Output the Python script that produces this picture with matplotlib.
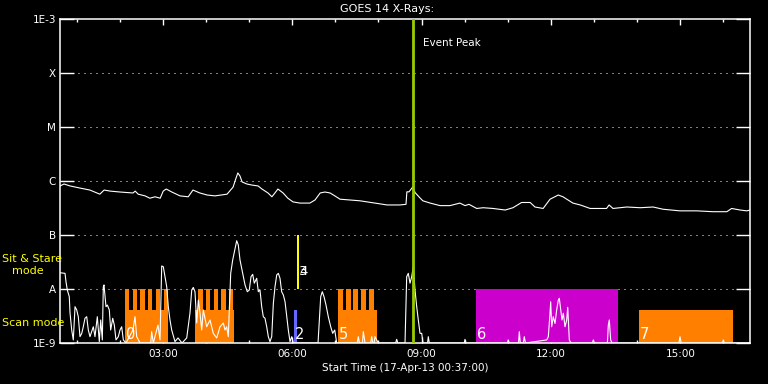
import matplotlib
matplotlib.use("Agg")
import matplotlib.pyplot as plt

# GOES 14 long channel (hours since 00:00 on 17-Apr-13, W/m^2)
goes_t = [0.62, 0.71, 0.85, 1.08, 1.31, 1.54, 1.64, 1.78, 2.01, 2.31, 2.36, 2.43, 2.59,
          2.70, 2.82, 2.94, 3.01, 3.08, 3.21, 3.40, 3.59, 3.70, 3.86, 4.03, 4.21, 4.49,
          4.63, 4.70, 4.74, 4.79, 4.84, 4.95, 5.07, 5.21, 5.30, 5.44, 5.53, 5.60, 5.67,
          5.79, 5.90, 6.02, 6.18, 6.41, 6.53, 6.65, 6.76, 6.88, 6.99, 7.11, 7.34, 7.57,
          7.74, 7.92, 8.20, 8.39, 8.50, 8.64, 8.66, 8.71, 8.80, 8.85, 8.95, 9.03, 9.20,
          9.43, 9.66, 9.89, 10.01, 10.10, 10.28, 10.43, 10.66, 10.94, 11.12, 11.32, 11.52,
          11.63, 11.82, 11.98, 12.17, 12.28, 12.51, 12.68, 12.91, 13.29, 13.35, 13.44,
          13.76, 14.07, 14.37, 14.60, 14.99, 15.38, 15.76, 16.08, 16.19, 16.39, 16.54, 16.62]
goes_flux = [8.1e-7, 8.8e-7, 8.1e-7, 7.4e-7, 6.8e-7, 5.7e-7, 6.8e-7, 6.5e-7, 6.25e-7,
             6.0e-7, 6.5e-7, 5.7e-7, 5.3e-7, 4.8e-7, 5.1e-7, 4.8e-7, 6.5e-7, 7.1e-7,
             6.25e-7, 5.3e-7, 5.1e-7, 6.8e-7, 6.0e-7, 5.5e-7, 5.3e-7, 5.7e-7, 7.7e-7,
             1.14e-6, 1.41e-6, 1.24e-6, 9.6e-7, 8.8e-7, 8.4e-7, 8.1e-7, 7.1e-7, 6.0e-7,
             5.1e-7, 6.0e-7, 7.1e-7, 6.0e-7, 4.8e-7, 4.1e-7, 3.9e-7, 3.9e-7, 4.45e-7,
             6.0e-7, 6.25e-7, 6.0e-7, 5.3e-7, 4.6e-7, 4.45e-7, 4.3e-7, 4.1e-7, 3.9e-7,
             3.6e-7, 3.6e-7, 3.6e-7, 3.7e-7, 6.3e-7, 6.3e-7, 7.8e-7, 6.1e-7, 5.0e-7,
             4.3e-7, 3.9e-7, 3.5e-7, 3.5e-7, 3.9e-7, 3.5e-7, 3.7e-7, 3.1e-7, 3.2e-7,
             3.1e-7, 2.9e-7, 3.2e-7, 4.0e-7, 4.0e-7, 3.3e-7, 3.1e-7, 4.6e-7, 5.5e-7,
             5.1e-7, 3.9e-7, 3.6e-7, 3.1e-7, 3.1e-7, 3.6e-7, 3.1e-7, 3.3e-7, 3.2e-7,
             3.3e-7, 3.0e-7, 2.8e-7, 2.8e-7, 2.7e-7, 2.7e-7, 3.1e-7, 2.9e-7, 2.8e-7, 2.9e-7]

# lower (noisy) curve
low_t = [0.617, 0.733, 0.756, 0.786, 0.832, 0.849, 0.888, 0.925, 0.965, 1.004, 1.041,
         1.080, 1.120, 1.157, 1.196, 1.236, 1.273, 1.312, 1.389, 1.428, 1.482, 1.528,
         1.561, 1.598, 1.621, 1.637, 1.683, 1.714, 1.760, 1.792, 1.839, 1.876, 1.915,
         1.969, 2.008, 2.047, 2.085, 2.147, 2.309, 2.356, 2.395, 2.472, 2.720, 2.743,
         2.780, 2.889, 2.936, 2.975, 3.012, 3.052, 3.091, 3.128, 3.167, 3.207, 3.283,
         3.353, 3.446, 3.555, 3.631, 3.671, 3.708, 3.747, 3.787, 3.824, 3.863, 3.902,
         3.940, 4.018, 4.095, 4.172, 4.250, 4.327, 4.404, 4.443, 4.482, 4.519, 4.575,
         4.621, 4.668, 4.714, 4.751, 4.791, 4.853, 4.907, 4.960, 5.006, 5.046, 5.085,
         5.122, 5.178, 5.215, 5.254, 5.294, 5.331, 5.370, 5.410, 5.447, 5.486, 5.526,
         5.564, 5.602, 5.642, 5.679, 5.718, 5.757, 5.796, 5.835, 5.874, 5.911, 5.950,
         5.990, 6.027, 6.600, 6.630, 6.662, 6.699, 6.739, 6.785, 6.838, 6.894, 6.940,
         6.987, 7.033, 7.510, 7.534, 7.560, 7.630, 7.650, 7.690, 7.820, 7.845, 7.870,
         7.900, 7.921, 7.998, 8.400, 8.424, 8.450, 8.617, 8.656, 8.693, 8.733, 8.772,
         8.809, 8.849, 8.888, 8.925, 8.965, 9.004, 9.034, 9.140, 9.157, 9.180, 9.990,
         10.008, 10.030, 10.990, 11.012, 11.035, 11.250, 11.267, 11.290, 11.360, 11.383,
         11.410, 11.903, 11.940, 11.979, 11.995, 12.018, 12.055, 12.095, 12.134, 12.172,
         12.195, 12.227, 12.257, 12.288, 12.327, 12.366, 12.390, 12.427, 12.466, 12.960,
         12.984, 13.010, 13.310, 13.331, 13.354, 13.386, 13.417, 14.970, 14.994, 15.020,
         15.975, 15.998, 16.020, 16.617]
low_flux = [2.0e-8, 1.95e-8, 1.36e-8, 9.6e-9, 7.2e-9, 3.6e-9, 1.74e-9, 1.14e-9, 4.7e-9,
            4.1e-9, 3.07e-9, 1.31e-9, 1.5e-9, 2.0e-9, 2.87e-9, 3.07e-9, 1.74e-9, 1.31e-9,
            2.0e-9, 1.31e-9, 3.07e-9, 1.06e-9, 2.67e-9, 1.14e-9, 1.1e-8, 1.19e-8, 4.7e-9,
            5.05e-9, 4.1e-9, 1.74e-9, 2.87e-9, 2.15e-9, 1.14e-9, 1.31e-9, 1.74e-9, 2.0e-9,
            1.14e-9, 1.0e-9, 1.74e-9, 3.07e-9, 1.31e-9, 1.0e-9, 1.0e-9, 1.62e-9, 1.0e-9,
            2.15e-9, 1.14e-9, 2.67e-8, 2.59e-8, 1.69e-8, 1.1e-8, 4.7e-9, 2.67e-9, 1.74e-9,
            1.06e-9, 1.24e-9, 1.0e-9, 1.24e-9, 3.6e-9, 9.6e-9, 1.07e-8, 8.9e-9, 2.35e-9,
            6.25e-9, 3.6e-9, 1.74e-9, 4.1e-9, 2.0e-9, 2.67e-9, 1.5e-9, 1.24e-9, 2.0e-9,
            2.35e-9, 1.74e-9, 2.0e-9, 1.31e-9, 1.95e-8, 3.44e-8, 5.27e-8, 7.84e-8, 6.53e-8,
            3.44e-8, 1.95e-8, 1.19e-8, 8.9e-9, 9.6e-9, 1.69e-8, 1.87e-8, 1.28e-8, 1.58e-8,
            8.9e-9, 9.6e-9, 4.7e-9, 3.07e-9, 2.87e-9, 2.0e-9, 1.31e-9, 1.06e-9, 1.31e-9,
            5.43e-9, 1.1e-8, 1.82e-8, 1.95e-8, 1.58e-8, 8.9e-9, 7.74e-9, 5.82e-9, 3.07e-9,
            1.74e-9, 1.06e-9, 1.31e-9, 1.0e-9, 1.0e-9, 2.67e-9, 7.2e-9, 8.9e-9, 7.2e-9,
            5.05e-9, 3.07e-9, 2.0e-9, 1.51e-9, 1.74e-9, 1.0e-9, 1.0e-9, 1.31e-9, 1.0e-9,
            1.0e-9, 1.62e-9, 1.0e-9, 1.0e-9, 1.31e-9, 1.0e-9, 1.0e-9, 1.31e-9, 1.0e-9,
            1.0e-9, 1.17e-9, 1.0e-9, 1.0e-9, 1.69e-8, 1.95e-8, 1.28e-8, 1.69e-8, 2.59e-8,
            9.6e-9, 4.7e-9, 2.67e-9, 1.51e-9, 1.51e-9, 1.0e-9, 1.0e-9, 1.31e-9, 1.0e-9,
            1.0e-9, 1.17e-9, 1.0e-9, 1.0e-9, 1.14e-9, 1.0e-9, 1.0e-9, 1.62e-9, 1.0e-9,
            1.0e-9, 1.31e-9, 1.0e-9, 1.14e-9, 1.31e-9, 3.55e-9, 5.82e-9, 2.0e-9, 3.07e-9,
            2.3e-9, 4.1e-9, 6.25e-9, 6.73e-9, 4.1e-9, 2.67e-9, 3.55e-9, 2.0e-9, 2.67e-9,
            4.58e-9, 1.14e-9, 1.0e-9, 1.0e-9, 1.14e-9, 1.0e-9, 1.0e-9, 2.15e-9, 2.67e-9,
            1.14e-9, 1.0e-9, 1.0e-9, 1.31e-9, 1.0e-9, 1.0e-9, 1.14e-9, 1.0e-9, 1.0e-9]

# IRIS observations: (start hour, end hour, top flux, colour, label)
obs_blocks = [
    (2.124, 3.114, 4.1e-9, "#ff8000", "0"),
    (3.747, 4.651, 4.1e-9, "#ff8000", ""),
    (6.044, 6.106, 4.1e-9, "#6666ff", "2"),
    (7.063, 7.961, 4.1e-9, "#ff8000", "5"),
    (10.263, 13.549, 1e-8, "#cc00cc", "6"),
    (14.035, 16.215, 4.1e-9, "#ff8000", "7"),
]
# raster teeth on top of the scan blocks (start hour, width)
teeth_start = [2.124, 2.302, 2.481, 2.660, 2.838, 3.017,
               3.824, 4.002, 4.181, 4.359, 4.538,
               7.063, 7.249, 7.418, 7.597, 7.782]
teeth_width = [0.10] * 11 + [0.115] * 5
sitstare = (6.114, 6.154, 1e-8, 1e-7)
event_peak = 8.795

tick_hours = [3, 6, 9, 12, 15]
tick_labels = ["03:00", "06:00", "09:00", "12:00", "15:00"]
class_levels = [1e-9, 1e-8, 1e-7, 1e-6, 1e-5, 1e-4, 1e-3]
class_labels = ["1E-9", "A", "B", "C", "M", "X", "1E-3"]

plt.rcParams["font.family"] = "DejaVu Sans"
fig = plt.figure(figsize=(7.68, 3.84), dpi=100, facecolor="black")
ax = fig.add_axes([60 / 768, 41 / 384, 690 / 768, 324 / 384], facecolor="black")
ax.set_yscale("log")
ax.set_xlim(0.6167, 16.6167)
ax.set_ylim(1e-9, 1e-3)

for lvl in class_levels[1:-1]:
    ax.axhline(lvl, color="white", lw=0.72, ls=(0, (1, 5)), zorder=1)

for t0, t1, top, col, lab in obs_blocks:
    ax.bar(t0, top - 1e-9, width=t1 - t0, bottom=1e-9, align="edge", color=col,
           lw=0, zorder=2)
    ax.text(t0 + 0.02, 1.06e-9, lab, color="white", fontsize=10.5, ha="left",
            va="bottom", zorder=5)
ax.bar(teeth_start, [1e-8 - 1e-9] * len(teeth_start), width=teeth_width, bottom=1e-9,
       align="edge", color="#ff8000", lw=0, zorder=2)
ax.bar(sitstare[0], sitstare[3] - sitstare[2], width=sitstare[1] - sitstare[0],
       bottom=sitstare[2], align="edge", color="#ffff00", lw=0, zorder=2)
ax.text(sitstare[1] + 0.01, 2.07e-8, "3", color="white", fontsize=9.5, ha="left",
        va="center", zorder=5)
ax.text(sitstare[1] + 0.01, 2.07e-8, "4", color="white", fontsize=9.5, ha="left",
        va="center", zorder=5)

ax.plot(goes_t, goes_flux, color="white", lw=0.8, zorder=3)
ax.plot(low_t, low_flux, color="white", lw=0.8, zorder=3)

ax.axvline(event_peak, color="#99cc00", lw=2, zorder=4)
ax.text(event_peak + 0.25, 0.927, "Event Peak", color="white", fontsize=7.5,
        transform=ax.get_xaxis_transform(), va="center", ha="left")

for s in ax.spines.values():
    s.set_color("white")
    s.set_linewidth(1.1)

ax.set_xticks(tick_hours)
ax.set_xticklabels(tick_labels)
ax.set_xticks(range(1, 17), minor=True)
ax.tick_params(axis="x", which="major", direction="in", length=4.5, width=1,
               color="white", labelcolor="white", labelsize=7.5, top=True, pad=4)
ax.tick_params(axis="x", which="minor", direction="in", length=2.2, width=1,
               color="white", top=True)
ax.set_yticks(class_levels)
ax.set_yticklabels(class_labels)
ax.yaxis.set_minor_locator(matplotlib.ticker.NullLocator())
ax.tick_params(axis="y", which="major", direction="in", length=10, width=1,
               color="white", labelcolor="white", labelsize=7.5, right=True, pad=3)

ax.set_xlabel("Start Time (17-Apr-13 00:37:00)", color="white", fontsize=7.5,
              labelpad=3)
fig.text(387 / 768, 1 - 9 / 384, "GOES 14 X-Rays:", color="white", fontsize=8,
         ha="center", va="center")
fig.text(2 / 768, 1 - 259 / 384, "Sit & Stare", color="#ffff00", fontsize=8,
         ha="left", va="center")
fig.text(12 / 768, 1 - 271 / 384, "mode", color="#ffff00", fontsize=8,
         ha="left", va="center")
fig.text(2 / 768, 1 - 323 / 384, "Scan mode", color="#ffff00", fontsize=8,
         ha="left", va="center")

fig.savefig("out.png", dpi=100, facecolor="black")
